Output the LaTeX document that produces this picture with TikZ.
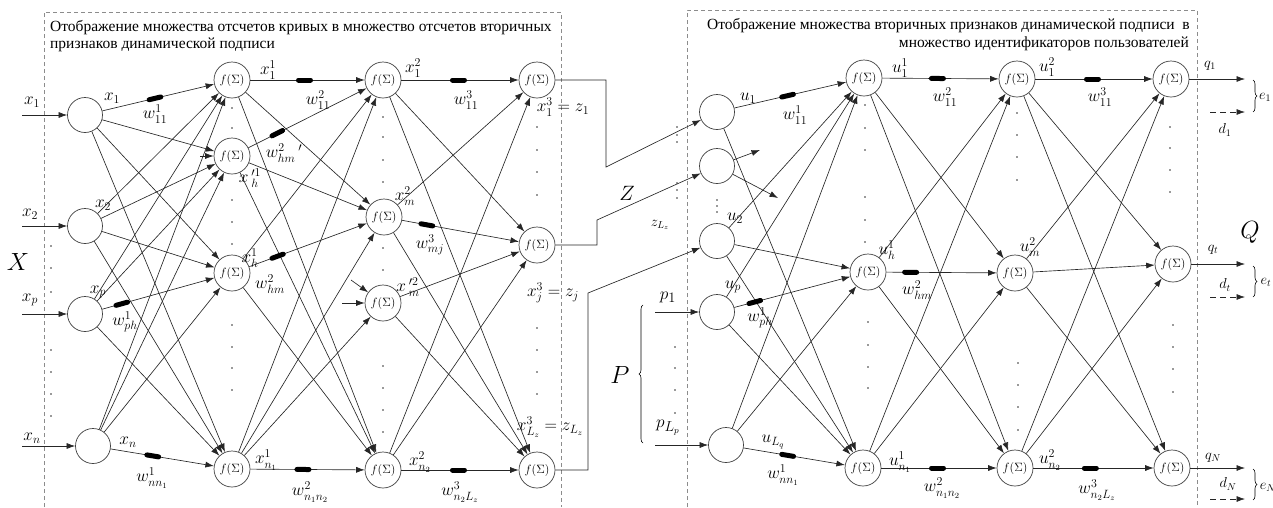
\documentclass[tikz,border=0pt]{standalone}
\usepackage{fontspec}
\setmainfont{Liberation Serif}
\usetikzlibrary{arrows.meta,calc,decorations.pathreplacing}
\newcommand{\fsz}[1]{\fontsize{#1}{#1}\selectfont}
\newcommand{\wblob}[3]{\path ($(#1)!#3!(#2)$) coordinate (wtmp); \draw[blob] ($(wtmp)!6pt!(#1)$) -- ($(wtmp)!6pt!(#2)$);}
\newcommand{\dotcol}[2]{\foreach \yy in {#2} \fill[black!80] (#1,\yy) circle (0.9pt);}
\begin{document}
\begin{tikzpicture}[x=1pt,y=-1pt,
  inp/.style={circle,draw=black!75,line width=0.7pt,minimum size=35pt,inner sep=0pt},
  fn/.style={circle,draw=black!75,line width=0.7pt,minimum size=36pt,inner sep=0pt,font=\fsz{11.5}},
  conn/.style={draw=black!85,line width=0.65pt},
  arr/.style={conn,-{Latex[length=8.5pt,width=6pt]}},
  blob/.style={line width=5pt,line cap=round,black},
  lbl/.style={inner sep=0pt,font=\fsz{17}},
  slbl/.style={inner sep=0pt,font=\fsz{14}},
  ttl/.style={inner sep=0pt,font=\fsz{15.5}},
  dbox/.style={draw=black!45,line width=0.6pt,dash pattern=on 4pt off 3pt},
  brc/.style={draw=black,line width=0.6pt,decorate,decoration={brace,amplitude=4pt}}
]
\useasboundingbox (0,0) rectangle (1273,507);

% ---------- dashed frames ----------
\draw[dbox] (44,507) -- (44,12) -- (561,12) -- (561,507);
\draw[dbox] (687,507) -- (687,10) -- (1197,10) -- (1197,507);

% ---------- titles ----------
\node[ttl,anchor=base west] (t1) at (50,31) {Отображение множества отсчетов кривых в множество отсчетов вторичных};
\node[ttl,anchor=base west] (t2) at (50,48) {признаков динамической подписи};
\node[ttl,anchor=base east] (t3) at (1190,29) {Отображение множества вторичных признаков динамической подписи\ \ в};
\node[ttl,anchor=base east] (t4) at (1189,47) {множество идентификаторов пользователей};

% ---------- left network nodes ----------
\node[inp] (I1) at (85,115) {};
\node[inp] (I2) at (85,226) {};
\node[inp] (Ip) at (85,314) {};
\node[inp] (In) at (93,446) {};
\node[fn] (A1) at (232,80) {$f(\Sigma)$};
\node[fn] (Ahp) at (232,156) {$f(\Sigma)$};
\node[fn] (Ah) at (232,273) {$f(\Sigma)$};
\node[fn] (An) at (232,469) {$f(\Sigma)$};
\node[fn] (B1) at (383,80) {$f(\Sigma)$};
\node[fn] (Bm) at (384,217) {$f(\Sigma)$};
\node[fn] (Bmp) at (383,303) {$f(\Sigma)$};
\node[fn] (Bn) at (383,470) {$f(\Sigma)$};
\node[fn] (C1) at (537,80) {$f(\Sigma)$};
\node[fn] (Cj) at (537,245) {$f(\Sigma)$};
\node[fn] (CL) at (537,470) {$f(\Sigma)$};

% ---------- right network nodes ----------
\node[inp] (U1) at (717,112) {};
\node[inp] (U0) at (717,166) {};
\node[inp] (U2) at (717,241) {};
\node[inp] (Up) at (717,312) {};
\node[inp] (UL) at (726,445) {};
\node[fn] (D1) at (864,78) {$f(\Sigma)$};
\node[fn] (Dh) at (868,272) {$f(\Sigma)$};
\node[fn] (Dn) at (863,468) {$f(\Sigma)$};
\node[fn] (E1) at (1017,79) {$f(\Sigma)$};
\node[fn] (Em) at (1015,273) {$f(\Sigma)$};
\node[fn] (En) at (1015,468) {$f(\Sigma)$};
\node[fn] (F1) at (1171,79) {$f(\Sigma)$};
\node[fn] (Ft) at (1173,264) {$f(\Sigma)$};
\node[fn] (FN) at (1172,468) {$f(\Sigma)$};

% ---------- input arrows (left) ----------
\coordinate (sx1) at (22,115); \coordinate (sx2) at (22,226);
\coordinate (sxp) at (22,314); \coordinate (sxn) at (22,446);
\draw[arr] (sx1) -- (I1); \draw[arr] (sx2) -- (I2);
\draw[arr] (sxp) -- (Ip); \draw[arr] (sxn) -- (In);

% ---------- left connections ----------
\foreach \s in {I1,I2,Ip,In} \foreach \t in {A1,Ahp,Ah,An} \draw[arr] (\s) -- (\t);
\foreach \s in {A1,Ahp,Ah,An} \foreach \t in {B1,Bm,Bn} \draw[arr] (\s) -- (\t);
\draw[arr] (An) -- (Bmp);
\foreach \s in {B1,Bm,Bn} \foreach \t in {C1,Cj,CL} \draw[arr] (\s) -- (\t);
\draw[arr] (Bmp) -- (Cj); \draw[arr] (Bmp) -- (CL);
\coordinate (st1) at (200,156); \draw[arr] (st1) -- (Ahp);
\coordinate (st2) at (342,303); \draw[arr] (st2) -- (Bmp);
\coordinate (st3) at (351,280); \draw[arr] (st3) -- (Bmp);

% ---------- transfer Z ----------
\coordinate (r1a) at (606,80); \coordinate (r1b) at (606,167);
\coordinate (r2a) at (597,245); \coordinate (r2b) at (597,220);
\coordinate (r3a) at (588,470); \coordinate (r3b) at (588,293);
\draw[arr] (C1) -- (r1a) -- (r1b) -- (U1);
\draw[arr] (Cj) -- (r2a) -- (r2b) -- (U0);
\draw[arr] (CL) -- (r3a) -- (r3b) -- (U2);

% ---------- P inputs ----------
\coordinate (sp1) at (655,312); \coordinate (spl) at (655,445);
\draw[arr] (sp1) -- (Up); \draw[arr] (spl) -- (UL);
\draw[brc] (643,443) -- (643,305);

% ---------- right connections ----------
\draw[arr] (U1) -- (D1); \draw[arr] (U1) -- (Dn);
\coordinate (su1) at (760,150); \coordinate (su2) at (778,198);
\draw[arr] (U0) -- (su1); \draw[arr] (U0) -- (su2);
\foreach \s in {U2,Up,UL} \foreach \t in {D1,Dh,Dn} \draw[arr] (\s) -- (\t);
\foreach \s in {D1,Dh,Dn} \foreach \t in {E1,Em,En} \draw[arr] (\s) -- (\t);
\foreach \s in {E1,Em,En} \foreach \t in {F1,Ft,FN} \draw[arr] (\s) -- (\t);

% ---------- outputs ----------
\coordinate (o1) at (1245,79); \coordinate (ot) at (1245,264); \coordinate (oN) at (1245,468);
\draw[arr] (F1) -- (o1); \draw[arr] (Ft) -- (ot); \draw[arr] (FN) -- (oN);
\coordinate (d1s) at (1210,112); \coordinate (d1e) at (1245,112);
\coordinate (dts) at (1210,297); \coordinate (dte) at (1245,297);
\coordinate (dNs) at (1210,499); \coordinate (dNe) at (1245,499);
\draw[arr,dash pattern=on 6pt off 4pt] (d1s) -- (d1e);
\draw[arr,dash pattern=on 6pt off 4pt] (dts) -- (dte);
\draw[arr,dash pattern=on 6pt off 4pt] (dNs) -- (dNe);
\draw[brc] (1253,80) -- (1253,112);
\draw[brc] (1253,266) -- (1253,297);
\draw[brc] (1253,469) -- (1253,500);

% ---------- weight blobs ----------
\wblob{I1}{A1}{0.476}
\wblob{Ip}{Ah}{0.25}
\wblob{In}{An}{0.43}
\wblob{A1}{B1}{0.48}
\wblob{Ahp}{B1}{0.30}
\wblob{Ah}{Bm}{0.30}
\wblob{An}{Bn}{0.47}
\wblob{B1}{C1}{0.49}
\wblob{Bm}{Cj}{0.28}
\wblob{Bn}{CL}{0.49}
\wblob{U1}{D1}{0.48}
\wblob{Up}{Dh}{0.25}
\wblob{UL}{Dn}{0.45}
\wblob{D1}{E1}{0.48}
\wblob{Dh}{Em}{0.29}
\wblob{Dn}{En}{0.49}
\wblob{E1}{F1}{0.49}
\wblob{En}{FN}{0.48}

% ---------- dots ----------
\dotcol{51}{246,268,292,350,372,394,416}
\dotcol{232}{108,128,200,222,244,325,347,368,390}
\dotcol{383}{117,137,160,182,248,270,366,388,410,432}
\dotcol{537}{127,150,172,195,328,350,372,394}
\dotcol{677}{127,135,142,183,190,198}
\dotcol{717}{200,206,212}
\dotcol{675}{347,368,390,413}
\dotcol{865}{105,128,150,197,220,242}
\dotcol{868}{322,345,367,388}
\dotcol{1017}{113,135,157,180}
\dotcol{1018}{363,385,407,430}
\dotcol{1170}{127,148,170,192}
\dotcol{1173}{325,347,369,392}

% ---------- left labels ----------
\node[lbl] (lx1) at (32,102) {$x_1$};
\node[lbl] (lx2) at (30,214) {$x_2$};
\node[lbl] (lxp) at (30,300) {$x_p$};
\node[lbl] (lxn) at (32,438) {$x_n$};
\node[inner sep=0pt,font=\fsz{28}] (lX) at (18,262) {$X$};
\node[lbl] (ox1) at (112,98) {$x_1$};
\node[lbl] (ox2) at (103,205) {$x_2$};
\node[lbl] (oxp) at (98,292) {$x_p$};
\node[lbl] (oxn) at (128,442) {$x_n$};
\node[lbl] (w1) at (155,114) {$w^1_{11}$};
\node[lbl] (w2) at (125,322) {$w^1_{ph}$};
\node[lbl] (w3) at (152,478) {$w^1_{nn_1}$};
\node[lbl] (a1) at (268,70) {$x^1_1$};
\node[lbl] (w4) at (318,100) {$w^2_{11}$};
\node[lbl] (w5) at (284,153) {$w^2_{hm}\,'$};
\node[lbl] (a2) at (250,178) {$x\,'^{1}_{h}$};
\node[lbl] (a3) at (250,258) {$x^1_h$};
\node[lbl] (w6) at (270,284) {$w^2_{hm}$};
\node[lbl] (a4) at (266,460) {$x^1_{n_1}$};
\node[lbl] (w7) at (310,492) {$w^2_{n_1n_2}$};
\node[lbl] (b1) at (413,68) {$x^2_1$};
\node[lbl] (w8) at (466,100) {$w^3_{11}$};
\node[lbl] (b2) at (405,196) {$x^2_m$};
\node[lbl] (w9) at (430,245) {$w^3_{mj}$};
\node[lbl] (b3) at (408,287) {$x\,'^{2}_{m}$};
\node[lbl] (b4) at (420,462) {$x^2_{n_2}$};
\node[lbl] (w10) at (460,492) {$w^3_{n_2L_z}$};
\node[lbl] (c1) at (563,107) {$x^3_1=z_1$};
\node[lbl] (c2) at (553,293) {$x^3_j=z_j$};
\node[lbl] (c3) at (550,427) {$x^3_{L_z}=z_{L_z}$};

% ---------- right labels ----------
\node[inner sep=0pt,font=\fsz{21}] (lZ) at (627,193) {$Z$};
\node[slbl] (zl) at (660,225) {$z_{L_z}$};
\node[inner sep=0pt,font=\fsz{19}] (p1) at (668,297) {$p_1$};
\node[inner sep=0pt,font=\fsz{19}] (pl) at (668,428) {$p_{L_p}$};
\node[inner sep=0pt,font=\fsz{23}] (lP) at (620,375) {$P$};
\node[lbl] (u1) at (748,98) {$u_1$};
\node[lbl] (u2) at (735,218) {$u_2$};
\node[lbl] (up) at (733,287) {$u_p$};
\node[lbl] (uL) at (773,442) {$u_{L_q}$};
\node[lbl] (rw1) at (795,115) {$w^1_{11}$};
\node[lbl] (rw2) at (760,318) {$w^1_{ph}$};
\node[lbl] (rw3) at (783,475) {$w^1_{nn_1}$};
\node[lbl] (d1l) at (900,68) {$u^1_1$};
\node[lbl] (rw4) at (945,97) {$w^2_{11}$};
\node[lbl] (dhl) at (887,250) {$u^1_h$};
\node[lbl] (rw5) at (917,290) {$w^2_{hm}$};
\node[lbl] (dnl) at (900,462) {$u^1_{n_1}$};
\node[lbl] (rw6) at (942,488) {$w^2_{n_1n_2}$};
\node[lbl] (e1l) at (1047,67) {$u^2_1$};
\node[lbl] (rw7) at (1100,97) {$w^3_{11}$};
\node[lbl] (eml) at (1030,247) {$u^2_m$};
\node[lbl] (enl) at (1050,460) {$u^2_{n_2}$};
\node[lbl] (rw8) at (1097,490) {$w^3_{n_2L_z}$};
\node[slbl] (q1l) at (1210,66) {$q_1$};
\node[slbl] (dd1) at (1225,130) {$d_1$};
\node[slbl] (ee1) at (1265,97) {$e_1$};
\node[slbl] (qtl) at (1213,250) {$q_t$};
\node[slbl] (ddt) at (1225,285) {$d_t$};
\node[slbl] (eet) at (1266,282) {$e_t$};
\node[slbl] (qNl) at (1213,458) {$q_N$};
\node[slbl] (ddN) at (1228,484) {$d_N$};
\node[slbl] (eeN) at (1268,487) {$e_N$};
\node[inner sep=0pt,font=\fsz{27}] (lQ) at (1250,232) {$Q$};
\end{tikzpicture}
\end{document}
